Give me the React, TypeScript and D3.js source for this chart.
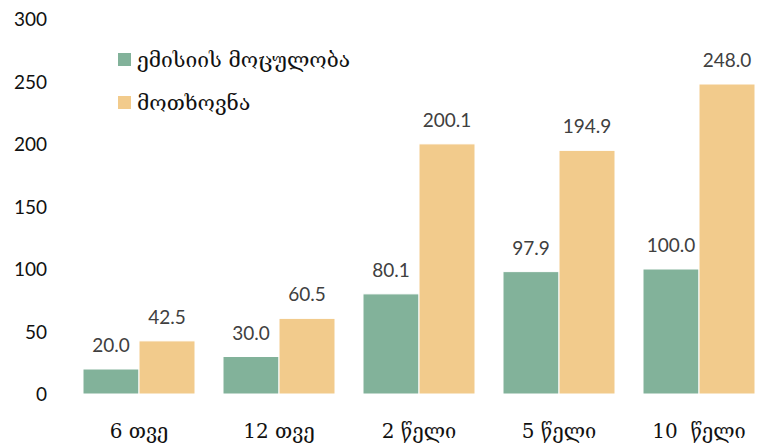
import React from "react";
import * as d3 from "d3";

const categories = ["6 თვე", "12 თვე", "2 წელი", "5 წელი", "10  წელი"];
const seriesNames = ["ემისიის მოცულობა", "მოთხოვნა"];
const emission = [20.0, 30.0, 80.1, 97.9, 100.0];
const demand = [42.5, 60.5, 200.1, 194.9, 248.0];
const yTicks = [0, 50, 100, 150, 200, 250, 300];
const colors = ["#82b29a", "#f2cb8c"];

export default function App() {
  const W = 763, H = 448;
  const x = d3.scaleBand<string>().domain(categories).range([69, 769]).paddingInner(0).paddingOuter(0);
  const y = d3.scaleLinear().domain([0, 300]).range([394, 19]);
  const inner = d3.scaleBand<string>().domain(["a", "b"]).range([0, 112]);
  const series = [emission, demand];
  const groupOffset = (x.bandwidth() - 112) / 2;
  return (
    <svg width={W} height={H} style={{ position: "absolute", left: 0, top: 0 }}>
      <rect width={W} height={H} fill="#fff" />
      {yTicks.map((t) => (
        <text key={t} x={47} y={y(t) + 7} textAnchor="end" fontFamily="Lato, 'Open Sans', sans-serif" fontSize={19} fill="#111">
          {t}
        </text>
      ))}
      {categories.map((c, i) => (
        <g key={c} transform={`translate(${(x(c) as number) + groupOffset},0)`}>
          {series.map((s, j) => {
            const bx = inner(j === 0 ? "a" : "b") as number;
            const bw = inner.bandwidth();
            return (
              <g key={j}>
                <rect x={bx} y={y(s[i])} width={bw} height={y(0) - y(s[i])} fill={colors[j]} stroke="#fff" strokeWidth={1} />
                <text x={bx + bw / 2} y={y(s[i]) - 17} textAnchor="middle" fontFamily="Lato, 'Open Sans', sans-serif" fontSize={19} fill="#404040">
                  {s[i].toFixed(1)}
                </text>
              </g>
            );
          })}
          <text x={56} y={438} textAnchor="middle" fontFamily="'DejaVu Serif', serif" fontSize={20} fill="#111" style={{ whiteSpace: "pre" }}>
            {c}
          </text>
        </g>
      ))}
      {seriesNames.map((n, j) => (
        <g key={n} transform={`translate(118, ${53 + j * 43})`}>
          <rect x={0} y={0} width={13} height={13} fill={colors[j]} />
          <text x={19} y={14} fontFamily="'DejaVu Serif', serif" fontSize={21} fill="#111">
            {n}
          </text>
        </g>
      ))}
    </svg>
  );
}
